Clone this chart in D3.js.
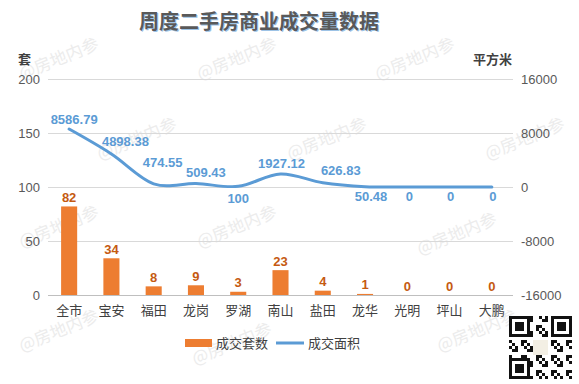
<!DOCTYPE html>
<html><head><meta charset="utf-8">
<script src="https://cdn.jsdelivr.net/npm/d3@7"></script>
<style>body{margin:0;background:#fff}svg{display:block;font-family:"Noto Sans CJK SC","Microsoft YaHei",sans-serif}</style>
</head><body><svg id="c" width="579" height="384"></svg>
<script>
const categories = ["全市","宝安","福田","龙岗","罗湖","南山","盐田","龙华","光明","坪山","大鹏"];
const units = [82,34,8,9,3,23,4,1,0,0,0];
const areas = [8586.79,4898.38,474.55,509.43,100,1927.12,626.83,50.48,0,0,0];
const areaLabels = ["8586.79","4898.38","474.55","509.43","100","1927.12","626.83","50.48","0","0","0"];
// label placement (style): offset of label centre from the point, in px
const areaLabelOffset = [[5,-10],[14,-12],[9,-21],[10,-11],[0,12],[1,-11],[18,-12],[6,10],[2,9],[1,9],[1,9]];
const leftTicks = [0,50,100,150,200];
const rightTicks = [-16000,-8000,0,8000,16000];

const svg = d3.select("#c");
const L=48,R=513,T=79,B=295;
const x = d3.scaleBand().domain(categories).range([L,R]).paddingInner(0.62).paddingOuter(0.31);
const xc = d => x(d)+x.bandwidth()/2;
const yL = d3.scaleLinear().domain([0,200]).range([B,T]);
const yR = d3.scaleLinear().domain([-16000,16000]).range([B,T]);
const num = "Liberation Sans, Arial, sans-serif";

// watermarks
const wm = [[22,80],[200,80],[378,80],[100,160],[290,160],[488,160],[22,248],[200,248],[420,255],[22,352],[195,365],[440,352]];
svg.append("g").selectAll("text").data(wm).join("text")
  .attr("transform",d=>`translate(${d[0]},${d[1]}) rotate(-22)`)
  .attr("font-size",17).attr("fill","#ececec").text("@房地内参");

// gridlines
svg.append("g").selectAll("line").data(leftTicks).join("line")
  .attr("x1",L).attr("x2",R).attr("y1",d=>yL(d)+0.5).attr("y2",d=>yL(d)+0.5)
  .attr("stroke",d=>d===0?"#bfbfbf":"#d9d9d9").attr("stroke-width",1);

// axis labels
svg.append("g").selectAll("text").data(leftTicks).join("text")
  .attr("x",40).attr("y",d=>yL(d)).attr("dy","0.35em").attr("text-anchor","end")
  .attr("font-size",13).attr("fill","#595959").attr("font-family",num).text(d=>d);
svg.append("g").selectAll("text").data(rightTicks).join("text")
  .attr("x",521).attr("y",d=>yR(d)).attr("dy","0.35em").attr("text-anchor","start")
  .attr("font-size",13).attr("fill","#595959").attr("font-family",num).text(d=>d);

// axis titles
svg.append("text").attr("x",18).attr("y",64).attr("font-size",13).attr("font-weight","bold").attr("fill","#404040").text("套");
svg.append("text").attr("x",473).attr("y",64).attr("font-size",13).attr("font-weight","bold").attr("fill","#404040").text("平方米");

// title
const title="周度二手房商业成交量数据";
svg.append("text").attr("x",260).attr("y",30).attr("text-anchor","middle").attr("font-size",20).attr("font-weight","bold")
  .attr("fill","#9dc3e6").text(title);
svg.append("text").attr("x",259).attr("y",29).attr("text-anchor","middle").attr("font-size",20).attr("font-weight","bold")
  .attr("fill","#595959").text(title);

// bars
svg.append("g").selectAll("rect").data(categories).join("rect")
  .attr("x",d=>x(d)).attr("width",x.bandwidth())
  .attr("y",(d,i)=>yL(units[i])).attr("height",(d,i)=>yL(0)-yL(units[i]))
  .attr("fill","#ed7d31");
svg.append("g").selectAll("text").data(categories).join("text")
  .attr("x",d=>xc(d)).attr("y",(d,i)=>yL(units[i])-9).attr("dy","0.35em").attr("text-anchor","middle")
  .attr("font-size",13).attr("font-weight","bold").attr("fill","#c55a11")
  .attr("font-family",num).text((d,i)=>units[i]);

// x labels
svg.append("g").selectAll("text").data(categories).join("text")
  .attr("x",d=>xc(d)).attr("y",310).attr("dy","0.35em").attr("text-anchor","middle")
  .attr("font-size",13).attr("fill","#404040").text(d=>d);

// line
const line = d3.line().x((d,i)=>xc(categories[i])).y(d=>yR(d)).curve(d3.curveCardinal.tension(0));
svg.append("path").datum(areas).attr("d",line).attr("fill","none").attr("stroke","#5b9bd5").attr("stroke-width",3).attr("stroke-linecap","round");
svg.append("g").selectAll("text").data(areas).join("text")
  .attr("x",(d,i)=>xc(categories[i])+areaLabelOffset[i][0]).attr("y",(d,i)=>yR(d)+areaLabelOffset[i][1]).attr("dy","0.35em")
  .attr("text-anchor","middle").attr("font-size",13).attr("font-weight","bold").attr("fill","#5b9bd5")
  .attr("font-family",num).text((d,i)=>areaLabels[i]);

// legend
const lg = svg.append("g");
lg.append("rect").attr("x",185).attr("y",339).attr("width",27).attr("height",8).attr("fill","#ed7d31");
lg.append("text").attr("x",216).attr("y",343).attr("dy","0.35em").attr("font-size",13).attr("fill","#404040").text("成交套数");
lg.append("line").attr("x1",276).attr("x2",304).attr("y1",343).attr("y2",343).attr("stroke","#5b9bd5").attr("stroke-width",3);
lg.append("text").attr("x",308).attr("y",343).attr("dy","0.35em").attr("font-size",13).attr("fill","#404040").text("成交面积");

// QR-like decoration
const qr = svg.append("g").attr("transform","translate(509,316)");
const n=21, s=3;
qr.append("rect").attr("width",n*s).attr("height",n*s).attr("fill","#fff");
const cells=[];
for(let r=0;r<n;r++)for(let c=0;c<n;c++){
  const inF=(a,b)=>r>=a&&r<a+7&&c>=b&&c<b+7;
  if(inF(0,0)||inF(0,n-7)||inF(n-7,0)) continue;
  if(r>=8&&r<13&&c>=8&&c<13) continue;
  if(((r*7+c*13+r*c)%5)<2) cells.push([r,c]);
}
qr.selectAll("rect.m").data(cells).join("rect").attr("class","m").attr("x",d=>d[1]*s).attr("y",d=>d[0]*s).attr("width",s).attr("height",s).attr("fill","#111");
[[0,0],[0,n-7],[n-7,0]].forEach(([r,c])=>{
  qr.append("rect").attr("x",c*s+1.5).attr("y",r*s+1.5).attr("width",6*s).attr("height",6*s).attr("fill","none").attr("stroke","#111").attr("stroke-width",3);
  qr.append("rect").attr("x",(c+2)*s).attr("y",(r+2)*s).attr("width",3*s).attr("height",3*s).attr("fill","#111");
});
qr.append("rect").attr("x",8*s).attr("y",8*s).attr("width",5*s).attr("height",5*s).attr("fill","#f3efe4");
</script></body></html>
